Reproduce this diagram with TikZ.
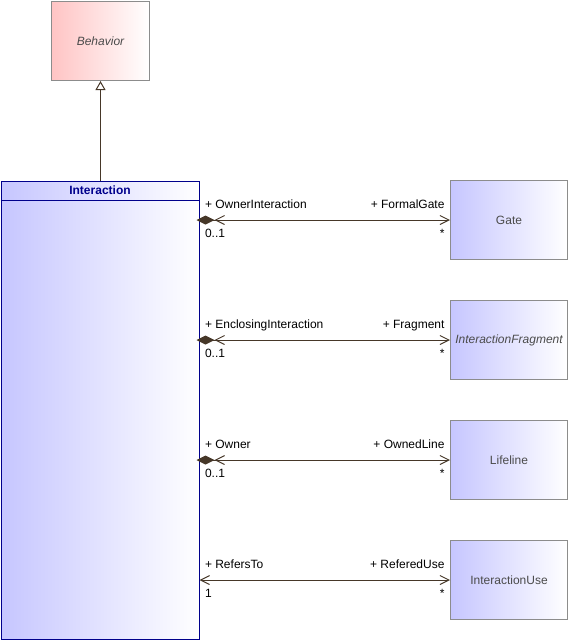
\documentclass[tikz,border=0pt]{standalone}
\usepackage{fontspec}
\setmainfont{Liberation Sans}
\usetikzlibrary{calc, arrows.meta}

\definecolor{umlblue}{RGB}{198,198,255}
\definecolor{umlpink}{RGB}{255,196,196}
\definecolor{umlnavy}{RGB}{0,0,140}
\definecolor{umlgrey}{RGB}{140,140,140}
\definecolor{umltext}{RGB}{75,75,75}
\definecolor{umlline}{RGB}{70,55,40}

\begin{document}
\begin{tikzpicture}[x=1pt, y=-1pt, line width=1pt,
    font=\fontsize{12}{14}\selectfont,
    classbox/.style={draw=umlgrey, left color=umlblue, right color=white,
        minimum width=117pt, minimum height=79pt, inner sep=0pt,
        text=umltext, anchor=north west},
    assoc/.style={draw=umlline,
        {Straight Barb[length=9pt,width=9pt]}-{Straight Barb[length=9pt,width=9pt]}},
    comp/.style={draw=umlline,
        {Diamond[length=18pt,width=9pt,fill=umlline,sep=-3pt]Straight Barb[length=9pt,width=9pt]}-{Straight Barb[length=9pt,width=9pt]}},
    gen/.style={draw=umlline, -{Triangle[open,length=9pt,width=10pt,fill=white]}},
    role/.style={inner xsep=5pt, inner ysep=8pt, text height=9pt, text depth=3pt}]

    \useasboundingbox (0,0) rectangle (568,640);

    % 1. The super class and the Interaction class
    \node[classbox, left color=umlpink, minimum width=98pt, font=\fontsize{12}{14}\selectfont\itshape]
        (beh) at (51,1) {Behavior};
    \node[draw=umlnavy, left color=umlblue, right color=white, anchor=north west,
        minimum width=198pt, minimum height=458pt, inner sep=0pt] (inter) at (0.5,180.5) {};
    \node[text=umlnavy, font=\fontsize{12}{14}\selectfont\bfseries] (title)
        at ($(inter.north)+(0,10)$) {Interaction};
    \draw[umlnavy] ($(inter.north west)+(0,20)$) -- ($(inter.north east)+(0,20)$);

    % 2. Generalization
    \draw[gen] (inter.north -| beh.south) -- (beh.south);

    % 3. The four associated classes
    \node[classbox] (gate) at (450,180) {Gate};
    \node[classbox, font=\fontsize{12}{14}\selectfont\itshape] (frag) at (450,300) {InteractionFragment};
    \node[classbox] (life) at (450,420) {Lifeline};
    \node[classbox] (use) at (450,540) {InteractionUse};

    % 4. Association ends on the Interaction side
    \coordinate (s1) at (inter.east |- gate.west);
    \coordinate (s2) at (inter.east |- frag.west);
    \coordinate (s3) at (inter.east |- life.west);
    \coordinate (s4) at (inter.east |- use.west);

    % 5. Connectors
    \draw[comp] (s1) -- (gate.west);
    \draw[comp] (s2) -- (frag.west);
    \draw[comp] (s3) -- (life.west);
    \draw[assoc] (s4) -- (use.west);

    % 6. Role names and multiplicities
    \node[role, above right] at (s1) {+ OwnerInteraction};
    \node[role, below right] at (s1) {0..1};
    \node[role, above left] at (gate.west) {+ FormalGate};
    \node[role, below left] at (gate.west) {*};

    \node[role, above right] at (s2) {+ EnclosingInteraction};
    \node[role, below right] at (s2) {0..1};
    \node[role, above left] at (frag.west) {+ Fragment};
    \node[role, below left] at (frag.west) {*};

    \node[role, above right] at (s3) {+ Owner};
    \node[role, below right] at (s3) {0..1};
    \node[role, above left] at (life.west) {+ OwnedLine};
    \node[role, below left] at (life.west) {*};

    \node[role, above right] at (s4) {+ RefersTo};
    \node[role, below right] at (s4) {1};
    \node[role, above left] at (use.west) {+ ReferedUse};
    \node[role, below left] at (use.west) {*};

\end{tikzpicture}
\end{document}
